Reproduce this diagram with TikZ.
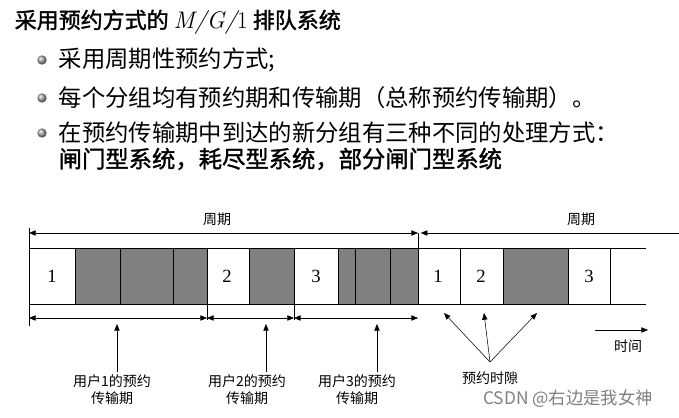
\documentclass[tikz,border=0pt]{standalone}
\usepackage{fontspec}
\setmainfont{Noto Sans CJK SC}
\newfontfamily\cjkb[FakeBold=1.5]{Noto Sans CJK SC}
\newfontfamily\serifnum{Liberation Serif}
\usetikzlibrary{arrows.meta}
\begin{document}
\begin{tikzpicture}[x=0.75pt,y=-0.75pt,
  gbox/.style={draw=black,fill=black!50},
  wbox/.style={draw=black,fill=white},
  arr/.style={-{Triangle[length=5pt,width=4pt]}},
  darr/.style={{Triangle[length=5pt,width=4pt]}-{Triangle[length=5pt,width=4pt]}},
  lab/.style={font=\fontsize{10.5}{13}\selectfont,align=center},
  num/.style={font=\serifnum\fontsize{14}{14}\selectfont},
  bul/.style={circle,inner sep=0pt,minimum size=7pt,ball color=gray!70,shading=ball}]
\useasboundingbox (0,0) rectangle (679,418);
\node[anchor=west,font=\cjkb\fontsize{16.5}{19}\selectfont] (title) at (10,22) {采用预约方式的 {\normalfont\fontspec{Latin Modern Roman}\fontsize{18}{19}\selectfont\itshape M/G/\upshape 1} 排队系统};
\foreach \y/\n in {60/b1,98/b2,133/b3} \node[bul] (\n) at (42,\y) {};
\node[anchor=west,font=\fontsize{17.5}{20}\selectfont] (t1) at (54,60) {采用周期性预约方式;};
\node[anchor=west,font=\fontsize{17.5}{20}\selectfont] (t2) at (54,98) {每个分组均有预约期和传输期（总称预约传输期）。};
\node[anchor=west,font=\fontsize{17.5}{20}\selectfont] (t3) at (54,133) {在预约传输期中到达的新分组有三种不同的处理方式：};
\node[anchor=west,font=\cjkb\fontsize{17.5}{20}\selectfont] (t4) at (54,159) {闸门型系统，耗尽型系统，部分闸门型系统};
% boxes
\foreach \a/\b/\s in {29/75/wbox,75/120/gbox,120/173/gbox,173/207/gbox,207/249/wbox,249/294/gbox,294/338/wbox,338/355/gbox,355/390/gbox,390/418/gbox,418/460/wbox,460/503/wbox,503/568/gbox,568/610/wbox}
  \draw[\s] (\a,248) rectangle (\b,304);
\foreach \a/\t in {52/1,227/2,316/3,438/1,481/2,589/3} \node[num] at (\a,276) {\t};
\draw (610,248) -- (646,248) (610,304) -- (646,304) (610,248) -- (610,304);
% ticks
\draw (29,228) -- (29,326) (418,233) -- (418,248) (207,304) -- (207,320) (294,304) -- (294,320);
\coordinate (p0) at (29,233); \coordinate (p1) at (418,233); \coordinate (p2) at (680,233);
\draw[darr] (p0) -- (p1); \draw[arr] (p2) -- ([xshift=2]p1);
\node[lab] (c1) at (217,219) {周期}; \node[lab] (c2) at (581,219) {周期};
\coordinate (q0) at (29,318); \coordinate (q1) at (207,318); \coordinate (q2) at (294,318); \coordinate (q3) at (418,318);
\draw[darr] (q0) -- (q1); \draw[darr] (q1) -- (q2); \draw[darr] (q2) -- (q3);
\node[lab] (u1) at (112,390) {用户1的预约\\传输期};
\node[lab] (u2) at (247,390) {用户2的预约\\传输期};
\node[lab] (u3) at (357,390) {用户3的预约\\传输期};
\draw[arr] (117,372) -- (117,324); \draw[arr] (266,372) -- (266,324); \draw[arr] (377,372) -- (377,324);
\node[lab] (r) at (490,378) {预约时隙};
\coordinate (rr) at (490,362);
\draw[arr] (rr) -- (444,313); \draw[arr] (rr) -- (484,313); \draw[arr] (rr) -- (537,313);
\coordinate (ta) at (595,330); \coordinate (tb) at (648,330);
\draw[arr] (ta) -- (tb); \node[lab] (tm) at (628,346) {时间};
\node[font=\fontsize{13}{15}\selectfont,text=gray] (wm) at (568,399) {CSDN @右边是我女神};
\end{tikzpicture}
\end{document}
